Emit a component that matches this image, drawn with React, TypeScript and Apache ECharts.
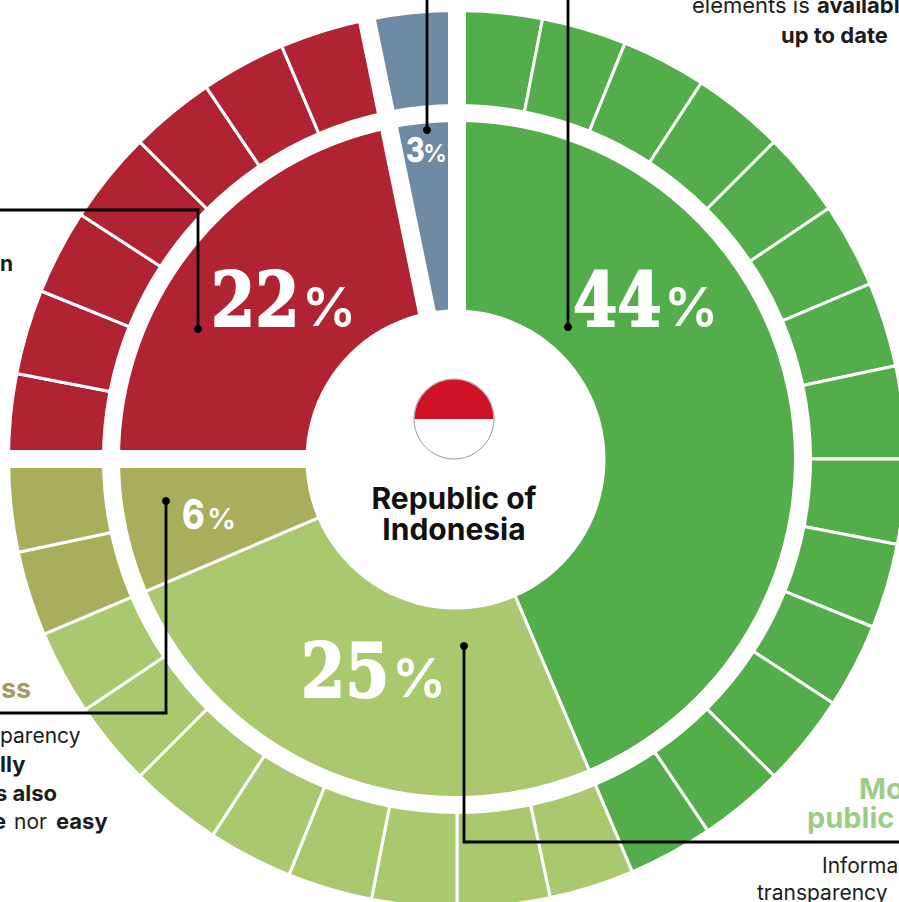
import React, { useEffect, useRef } from "react";
import * as echarts from "echarts";

const groupNames = ["Green", "LightGreen", "Olive", "Red", "Blue"];
const greenCells = [11, 11, 11, 12, 11, 11, 11, 12, 11, 11, 11, 12, 11, 11];
const lightGreenCells = [11, 12, 11, 11, 11, 12, 11, 11];
const oliveCells = [11, 12];
const redCells = [11, 11, 11, 12, 11, 11, 11.4];
const blueCells = [11.6];
const groupColors = ["#52ad4a", "#aac96e", "#a8ae5b", "#b02333", "#6e8ba3"];
const percents = ["44", "25", "6", "22", "3"];

const CX = 457;
const CY = 459;
const SANS = "Inter, 'Noto Sans', sans-serif";
const SERIF = "'DejaVu Serif', serif";
const ASC = 0.86;

function seg(text: string, x: number, y: number, o: any = {}) {
  const size = o.size ?? 21;
  return {
    type: "text",
    z: 30,
    x,
    y: y - ASC * size,
    silent: true,
    style: {
      text,
      fontFamily: SANS,
      fontSize: size,
      fontWeight: o.bold ? 700 : 400,
      fill: o.fill ?? "#1c1c1c",
      textAlign: o.align ?? "left",
    },
  };
}

function leader(points: number[][], dot: number[]) {
  return [
    { type: "polyline", z: 20, silent: true, shape: { points }, style: { stroke: "#000", lineWidth: 2.8, fill: "none" } },
    { type: "circle", z: 21, silent: true, shape: { cx: dot[0], cy: dot[1], r: 4 }, style: { fill: "#000" } },
  ];
}

function pct(num: string, x: number, px: number, y: number, size: number, psize: number, scale: number, sw: number, family: string) {
  return [
    {
      type: "text",
      z: 25,
      x,
      y: y - ASC * size,
      scaleX: scale,
      silent: true,
      style: { text: num, fontFamily: family, fontWeight: 700, fontSize: size, fill: "#fff", stroke: "#fff", lineWidth: sw },
    },
    {
      type: "text",
      z: 25,
      x: px,
      y: y - ASC * psize,
      silent: true,
      style: { text: "%", fontFamily: SANS, fontWeight: 600, fontSize: psize, fill: "#fff" },
    },
  ];
}

function gap(angleDeg: number) {
  const a = (angleDeg * Math.PI) / 180;
  const R = 480;
  return {
    type: "line",
    z: 10,
    silent: true,
    shape: { x1: CX, y1: CY, x2: CX + R * Math.sin(a), y2: CY - R * Math.cos(a) },
    style: { stroke: "#fff", lineWidth: 18 },
  };
}

export default function App() {
  const ref = useRef<HTMLDivElement>(null);
  useEffect(() => {
    const chart = echarts.init(ref.current!, null, { renderer: "svg" });
    const groups = [greenCells, lightGreenCells, oliveCells, redCells, blueCells];
    const sum = (a: number[]) => a.reduce((p, c) => p + c, 0);
    const inner = groups.map((g, i) => ({ name: groupNames[i], value: sum(g), itemStyle: { color: groupColors[i] } }));
    const outer: any[] = [];
    groups.forEach((g, i) => {
      g.forEach((v, k) => outer.push({ name: groupNames[i] + (k + 1), value: v, itemStyle: { color: groupColors[i] } }));
    });
    const common = {
      type: "pie",
      center: [CX, CY],
      startAngle: 90,
      clockwise: true,
      silent: true,
      label: { show: false },
      labelLine: { show: false },
      emphasis: { disabled: true },
    };
    chart.setOption({
      animation: false,
      backgroundColor: "#fff",
      series: [
        { ...common, radius: [140, 338.5], data: inner, itemStyle: { borderColor: "#fff", borderWidth: 3 } },
        { ...common, radius: [353.5, 448.5], data: outer, itemStyle: { borderColor: "#fff", borderWidth: 3 } },
      ],
      graphic: [
        gap(0),
        gap(270),
        gap(360 - sum(blueCells)),
        {
          type: "circle", z: 12, silent: true,
          shape: { cx: 455.5, cy: 459.5, r: 150 },
          style: { fill: "#fff" },
        },
        {
          type: "circle", z: 15, silent: true,
          shape: { cx: 454, cy: 419, r: 40 },
          style: { fill: "#fff", stroke: "#999", lineWidth: 1 },
        },
        {
          type: "sector", z: 16, silent: true,
          shape: { cx: 454, cy: 419, r: 39.5, r0: 0, startAngle: Math.PI, endAngle: Math.PI * 2 },
          style: { fill: "#ce1327" },
        },
        seg("Republic of", 454, 509, { size: 30, bold: true, align: "center", fill: "#111" }),
        seg("Indonesia", 454, 540, { size: 30, bold: true, align: "center", fill: "#111" }),
        ...leader([[427, -5], [427, 130]], [427, 130]),
        ...leader([[568, -5], [568, 327]], [568, 327]),
        ...leader([[-5, 210], [198, 210], [198, 329]], [198, 329]),
        ...leader([[-5, 713], [166, 713], [166, 501]], [166, 501]),
        ...leader([[899, 842], [464, 842], [464, 646]], [464, 646]),
        ...pct(percents[0], 573, 664, 326, 74, 54, 0.86, 2, SERIF),
        ...pct(percents[3], 211, 302, 326, 74, 54, 0.86, 2, SERIF),
        ...pct(percents[1], 301, 392, 697, 74, 54, 0.86, 2, SERIF),
        ...pct(percents[2], 182, 207, 529, 41, 29, 0.85, 0.6, SANS),
        ...pct(percents[4], 406, 423, 162, 34, 24, 0.85, 0.6, SANS),
        seg("elements is ", 692, 13, { size: 22 }),
        seg("availabl", 817, 13, { bold: true, size: 22 }),
        seg("up to date", 781, 43, { bold: true, size: 22 }),
        seg("n", 0, 271, { bold: true }),
        seg("ss", 1, 698, { size: 27, bold: true, fill: "#a59a5f" }),
        seg("parency", 0, 743),
        seg("lly", 0, 772, { bold: true, size: 22 }),
        seg("s also", -5, 801, { bold: true, size: 22 }),
        seg("e", -7, 829, { bold: true, size: 22 }),
        seg("nor", 14, 829),
        seg("easy", 56, 829, { bold: true, size: 22 }),
        seg("Mo", 859, 799, { size: 29, bold: true, fill: "#9dcc8a" }),
        seg("public", 807, 828, { size: 29, bold: true, fill: "#9dcc8a" }),
        seg("Informa", 822, 873),
        seg("transparency", 757, 900),
      ],
    });
    return () => chart.dispose();
  }, []);
  return <div ref={ref} style={{ position: "fixed", left: 0, top: 0, width: 899, height: 902, overflow: "hidden" }} />;
}
